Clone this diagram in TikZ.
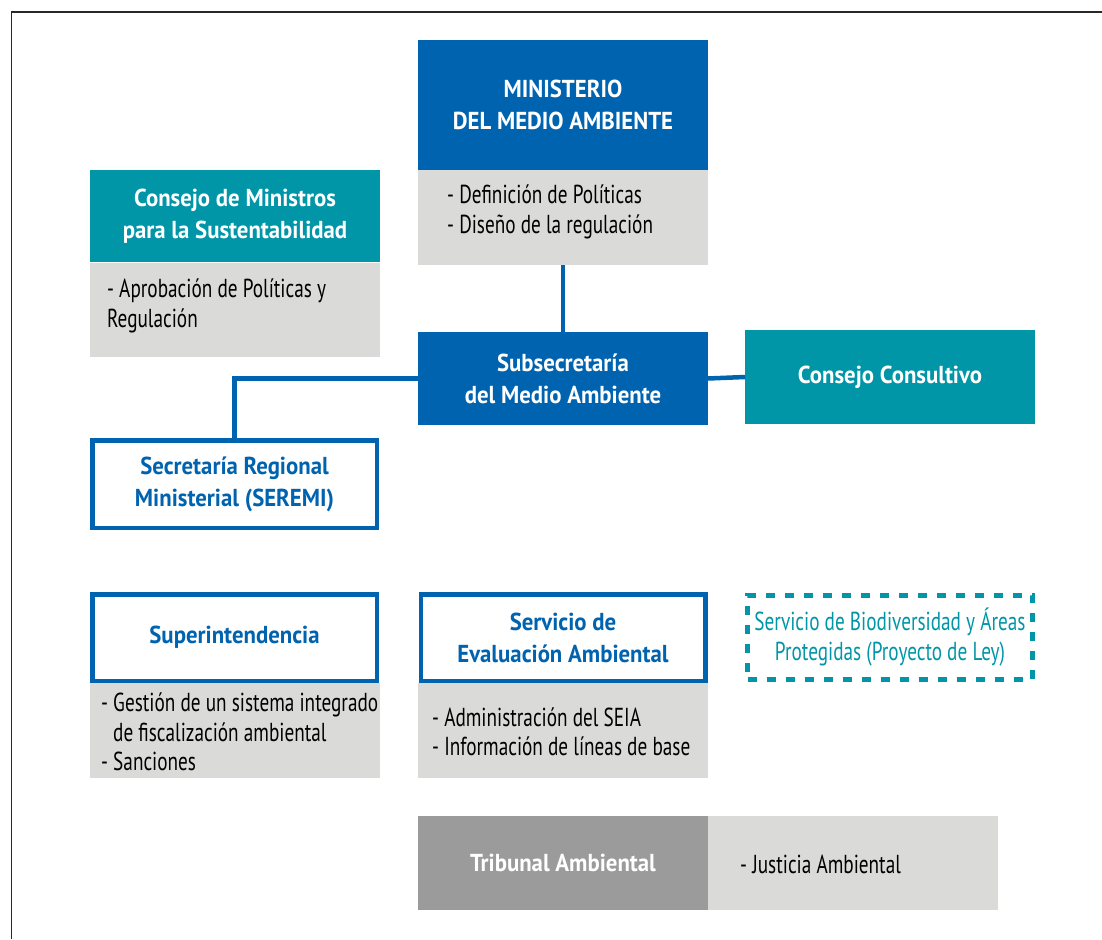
\documentclass[tikz,border=0pt]{standalone}
\usepackage{fontspec}
\setmainfont[FakeStretch=0.74, BoldFeatures={FakeStretch=0.93}]{PT Sans}
\definecolor{mblue}{RGB}{0,99,175}
\definecolor{mteal}{RGB}{0,150,168}
\definecolor{lgrey}{RGB}{218,218,217}
\definecolor{dgrey}{RGB}{155,155,155}
\definecolor{frame}{RGB}{40,40,40}
\newcommand\hdrfont{\bfseries\fontsize{24.5}{32}\selectfont}
\newcommand\bodyfont{\fontsize{26}{29.5}\selectfont}
\begin{document}
\begin{tikzpicture}[x=1pt,y=-1pt,
  box/.style={rectangle, inner sep=0pt, outer sep=0pt, minimum width=290pt, align=center},
  bluebox/.style={box, fill=mblue, text=white, font=\hdrfont},
  tealbox/.style={box, fill=mteal, text=white, font=\hdrfont},
  greybox/.style={box, fill=lgrey},
  darkbox/.style={box, fill=dgrey, text=white, font=\hdrfont},
  outlinebox/.style={box, draw=mblue, line width=4.5pt, fill=white, text=mblue, font=\hdrfont, minimum width=284.5pt},
  dashbox/.style={box, draw=mteal, line width=5pt, dash pattern=on 9pt off 10pt, text=mteal, font=\bodyfont, minimum width=285pt},
  body/.style={anchor=west, align=left, font=\bodyfont, inner sep=0pt, text=black},
  link/.style={draw=mblue, line width=4.5pt}]
\useasboundingbox (0,0) rectangle (1102,939);
% frame
\coordinate (ftl) at (11.5,12);
\coordinate (ftr) at (1102,12);
\coordinate (fbl) at (11.5,939);
\draw[frame, line width=1.6pt] (fbl) -- (ftl) -- (ftr);

% Ministerio
\node[bluebox, minimum height=130pt] (min) at (563,105) {MINISTERIO\\DEL MEDIO AMBIENTE};
\node[greybox, minimum height=95pt] (ming) at (563,217.5) {};
\node[body] (mint) at (447,212) {- Definición de Políticas\\- Diseño de la regulación};

% Consejo de Ministros
\node[tealbox, minimum height=92pt] (cm) at (235,216) {Consejo de Ministros\\para la Sustentabilidad};
\node[greybox, minimum height=94pt] (cmg) at (235,310) {};
\node[body] (cmt) at (107,306) {- Aprobación de Políticas y\\Regulación};

% Subsecretaria
\node[bluebox, minimum height=93pt] (sub) at (563,378.5) {Subsecretaría\\del Medio Ambiente};

% Consejo Consultivo
\node[tealbox, minimum height=94pt] (cc) at (890,377) {Consejo Consultivo};

% SEREMI
\node[outlinebox, minimum height=87.5pt] (ser) at (234.5,484) {Secretaría Regional\\Ministerial (SEREMI)};

% connectors
\draw[link] (ming.south) -- (sub.north);
\draw[link] (sub.east) -- (cc.west);
\draw[link] (sub.west) -| (ser.north);

% Superintendencia
\node[outlinebox, minimum height=86.5pt] (sup) at (234.5,637.5) {Superintendencia};
\node[greybox, minimum height=95pt] (supg) at (235,730.5) {};
\node[body] (supt) at (101,732) {- Gestión de un sistema integrado\\\hspace*{12pt}de fiscalización ambiental\\- Sanciones};

% Servicio de Evaluacion
\node[outlinebox, minimum height=86.5pt] (sea) at (563,637.5) {Servicio de\\Evaluación Ambiental};
\node[greybox, minimum height=95pt] (seag) at (563,730.5) {};
\node[body] (seat) at (432,732) {- Administración del SEIA\\- Información de líneas de base};

% Biodiversidad
\node[dashbox, minimum height=84pt] (bio) at (890,637) {Servicio de Biodiversidad y Áreas\\Protegidas (Proyecto de Ley)};

% Tribunal
\node[darkbox, minimum height=94pt] (tri) at (563,863) {Tribunal Ambiental};
\node[greybox, minimum height=94pt] (trig) at (853,863) {};
\node[body] (trit) at (740,864) {- Justicia Ambiental};
\end{tikzpicture}
\end{document}
